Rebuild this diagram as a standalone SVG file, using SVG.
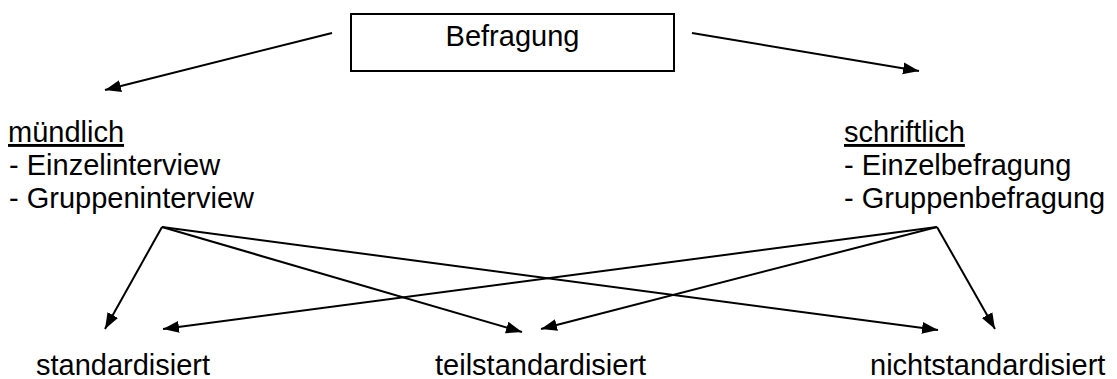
<svg xmlns="http://www.w3.org/2000/svg" width="1117" height="379" viewBox="0 0 1117 379">
<style>
text{font-family:"Liberation Sans",Arial,sans-serif;font-size:29px;fill:#000}
.box{fill:#fff;stroke:#000;stroke-width:2}
.c line{stroke:#000;stroke-width:2;marker-end:url(#ah)}
.u{text-decoration:underline}
</style>
<defs>
<marker id="ah" markerUnits="userSpaceOnUse" markerWidth="17" markerHeight="13" refX="16" refY="6" orient="auto">
<path d="M0,0 L16,6 L0,12 z" fill="#000"/>
</marker>
</defs>
<rect width="1117" height="379" fill="#fff"/>
<g class="c" id="connectors">
<line x1="332" y1="33" x2="105" y2="90"/>
<line x1="692" y1="33" x2="919" y2="71"/>
<line x1="162" y1="227" x2="105" y2="329"/>
<line x1="162" y1="227" x2="522" y2="332"/>
<line x1="162" y1="227" x2="938" y2="330"/>
<line x1="937" y1="227" x2="163" y2="329"/>
<line x1="937" y1="227" x2="541" y2="329"/>
<line x1="937" y1="227" x2="995" y2="329"/>
</g>
<g id="befragung">
<rect class="box" x="351" y="14" width="323" height="57"/>
<text x="512.5" y="46" text-anchor="middle">Befragung</text>
</g>
<g id="muendlich">
<text x="8" y="142" class="u">mündlich</text>
<text x="9" y="175">- Einzelinterview</text>
<text x="9" y="208">- Gruppeninterview</text>
</g>
<g id="schriftlich">
<text x="844" y="142" class="u">schriftlich</text>
<text x="844" y="175">- Einzelbefragung</text>
<text x="844" y="208">- Gruppenbefragung</text>
</g>
<g id="standardisiert"><text x="36" y="375">standardisiert</text></g>
<g id="teilstandardisiert"><text x="435" y="375">teilstandardisiert</text></g>
<g id="nichtstandardisiert"><text x="870" y="375">nichtstandardisiert</text></g>
</svg>
